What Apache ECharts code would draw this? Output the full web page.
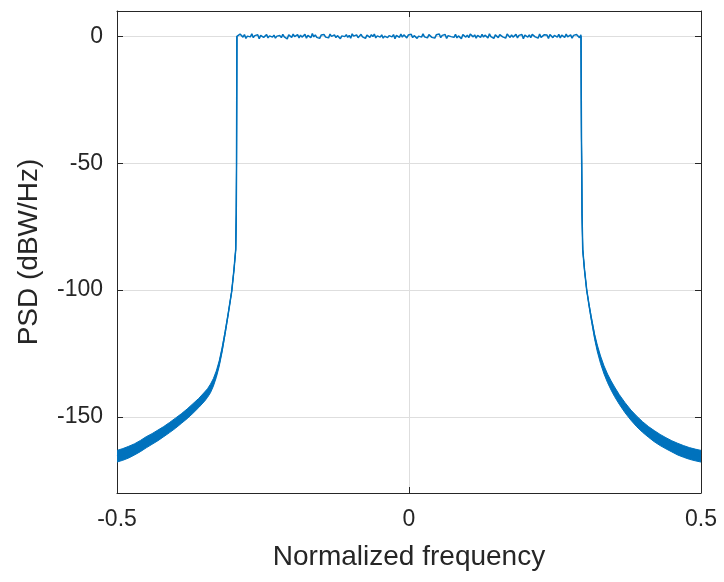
<!DOCTYPE html>
<html><head><meta charset="utf-8">
<script src="https://cdn.jsdelivr.net/npm/echarts@6/dist/echarts.min.js"></script>
<style>html,body{margin:0;padding:0;background:#fff}#c{width:724px;height:582px}</style>
</head><body><div id="c"></div>
<script>
// ---- data ----
const xTicks = [-0.5, 0, 0.5];
const yTicks = [-150, -100, -50, 0];

// left stop-band tail + transition (frequency, PSD dB, half-spread of the ripple band dB)
const leftFreq = [-0.500,-0.490,-0.480,-0.470,-0.460,-0.450,-0.440,-0.430,-0.420,-0.410,-0.400,-0.390,-0.380,-0.370,-0.360,-0.350,-0.345,-0.340,-0.335,-0.330,-0.325,-0.320,-0.315,-0.310,-0.3036,-0.2997,-0.2967,-0.2958,-0.2953,-0.2950,-0.2947];
const leftPSD  = [-165.5,-164.8,-163.9,-162.8,-161.5,-160.0,-158.7,-157.3,-155.8,-154.2,-152.5,-150.7,-148.8,-146.7,-144.5,-142.0,-140.6,-138.8,-136.4,-133.2,-129.0,-123.5,-117.0,-110.0,-100.5,-92,-84,-70,-50,-25,0];
const leftSpread = [2.3,2.3,2.3,2.2,2.2,2.2,2.1,2.1,2.0,2.0,2.0,1.9,1.9,1.9,1.8,1.8,1.7,1.7,1.5,1.3,1.1,0.9,0.6,0.3,0,0,0,0,0,0,0];

// pass band (noisy, around 0 dB)
const passStart = -0.2944, passEnd = 0.2944;
const passPSD = [0.4,-0.6,0.9,0.2,-0.3,0.7,-0.8,0.1,0.5,-0.2,1.0,-0.5,0.3,-0.1,0.6,-0.9,0.4,0.8,-0.4,0.0,0.7,-0.6,0.2,0.9,-0.3,0.5,-0.7,0.1,0.6,0.3,-0.5,0.8,-0.2,0.4,-1.0,0.6,0.2,-0.4,0.9,-0.1,0.3,0.7,-0.6,0.5,-0.3,0.0,0.8,-0.7,0.4,0.2,-0.5,1.1,-0.2,0.6,-0.4,0.3,-0.8,0.5,0.1,0.7,-0.3,0.4,-0.6,0.9,0.0,-0.2,0.6,-0.5,0.3,0.8,-0.9,0.2,0.5,-0.1,0.7,-0.4,0.4,-0.7,1.0,0.1,-0.3,0.6,-0.5,0.2,0.8,-0.2,0.4,-0.8,0.5,0.3,-0.4,0.7,-0.1,0.9,-0.6,0.2,0.4,-0.3,0.6,-0.7,0.1,0.8,-0.5,0.3,0.5,-0.2,0.7,-0.9,0.4,0.0,-0.4,0.9,-0.3,0.6,0.2,-0.6,0.5,-0.1,0.8,-0.5,0.3,0.6,-0.8,0.1,0.4,-0.3,1.0,-0.2,0.5,-0.6,0.7,0.2,-0.4,0.3,-0.7,0.6,0.0,0.9,-0.5,0.4,-0.2,0.7,-0.8,0.3,0.5,-0.1,0.6,-0.4,0.8,-0.6,0.2,0.4,-0.9,0.7,0.1,-0.3,0.5,-0.5,0.9,0.3,-0.2,0.6,-0.7,0.4,0.1,-0.4,0.8,-0.3,0.5,0.2,-0.6,1.0,-0.1,0.3,-0.8,0.6,0.4,-0.5,0.7,0.0,-0.2,0.5,-0.7,0.9,0.2,-0.4,0.6,-0.3,0.3,0.8,-0.6,0.4,-0.1,0.7,-0.9,0.5,0.1,-0.3,0.6,-0.5,0.8,0.2,-0.2,0.4,-0.7,0.9,-0.4,0.3,0.6,-0.1,0.5,-0.8,0.7,0.0,-0.5,0.4,0.2,-0.3,0.8,-0.6,0.5,0.1,-0.4,0.9,-0.2,0.3,0.6,-0.7,0.4,-0.3,0.7,0.1,-0.5,0.6];

// right transition + stop-band tail
const rightFreq = [0.2947,0.2950,0.2953,0.2957,0.2963,0.2975,0.3005,0.3043,0.308,0.312,0.318,0.3225,0.328,0.334,0.340,0.346,0.352,0.360,0.370,0.380,0.390,0.400,0.410,0.420,0.430,0.440,0.450,0.460,0.470,0.480,0.490,0.500];
const rightPSD  = [0,-25,-40,-50,-70,-84,-92,-100,-105.5,-111,-118.5,-123.0,-127.5,-131.5,-134.8,-137.6,-140.1,-143.1,-146.4,-149.3,-151.8,-154.0,-155.9,-157.6,-159.1,-160.4,-161.6,-162.7,-163.6,-164.4,-165.0,-165.5];
const rightSpread = [0,0,0,0,0,0,0,0,0.3,0.6,1.0,1.3,1.5,1.6,1.7,1.8,1.9,1.9,2.0,2.0,2.1,2.1,2.1,2.2,2.2,2.2,2.2,2.3,2.3,2.3,2.3,2.3];

// ---- build ----
const passData = passPSD.map((v,i)=>[passStart + (passEnd-passStart)*i/(passPSD.length-1), v]);
const mainData = leftFreq.map((f,i)=>[f,leftPSD[i]]).concat(passData, rightFreq.map((f,i)=>[f,rightPSD[i]]));
const bandUpper = (fr,ps,sp)=>fr.map((f,i)=>[f, ps[i]+sp[i]]);
const bandLower = (fr,ps,sp)=>fr.map((f,i)=>[f, ps[i]-sp[i]]);

const C = '#0072BD', AX = '#262626', GR = '#dedede';
const FONT = 'Liberation Sans, Arial, sans-serif';
const chart = echarts.init(document.getElementById('c'), null, {renderer:'canvas'});

function bandSeries(fr, ps, sp){
  const up = bandUpper(fr,ps,sp), lo = bandLower(fr,ps,sp);
  return {type:'custom', silent:true, clip:true, z:3, data:[[fr[0], ps[0]]],
    renderItem:(params, api)=>{
      const pts = up.map(p=>api.coord(p)).concat(lo.slice().reverse().map(p=>api.coord(p)));
      return {type:'polygon', shape:{points:pts, smooth:0}, style:{fill:C, stroke:C, lineWidth:1}};
    }};
}

const xBase = {type:'value', min:-0.5, max:0.5, interval:0.5, gridIndex:0,
  axisLine:{show:true, onZero:false, lineStyle:{color:AX, width:1}},
  axisTick:{show:true, inside:true, length:6, lineStyle:{color:AX}}};
const yBase = {type:'value', min:-180, max:10, gridIndex:0,
  axisLine:{show:true, onZero:false, lineStyle:{color:AX, width:1}},
  axisTick:{show:true, inside:true, length:6, customValues:yTicks, lineStyle:{color:AX}}};
chart.setOption({
  animation:false,
  backgroundColor:'#fff',
  grid:{left:117, right:23, top:11, bottom:89, containLabel:false},
  xAxis:[
    Object.assign({}, xBase, {position:'bottom',
      name:'Normalized frequency', nameLocation:'middle', nameGap:50,
      nameTextStyle:{fontSize:28, color:AX, fontFamily:FONT},
      axisLabel:{fontSize:23, color:AX, fontFamily:FONT, margin:15, formatter:v=>String(v)},
      splitLine:{show:true, lineStyle:{color:GR, width:1}}}),
    Object.assign({}, xBase, {position:'top', axisLabel:{show:false}, splitLine:{show:false}})
  ],
  yAxis:[
    Object.assign({}, yBase, {position:'left',
      name:'PSD (dBW/Hz)', nameLocation:'middle', nameGap:74,
      nameTextStyle:{fontSize:28, color:AX, fontFamily:FONT},
      axisLabel:{fontSize:23, color:AX, fontFamily:FONT, margin:14, customValues:yTicks},
      splitLine:{show:true, customValues:yTicks, lineStyle:{color:GR, width:1}}}),
    Object.assign({}, yBase, {position:'right', axisLabel:{show:false}, splitLine:{show:false}})
  ],
  series:[
    bandSeries(leftFreq, leftPSD, leftSpread),
    bandSeries(rightFreq, rightPSD, rightSpread),
    {type:'line', data:mainData, symbol:'none', lineStyle:{color:C, width:1.5}, z:5}
  ]
});
</script></body></html>
